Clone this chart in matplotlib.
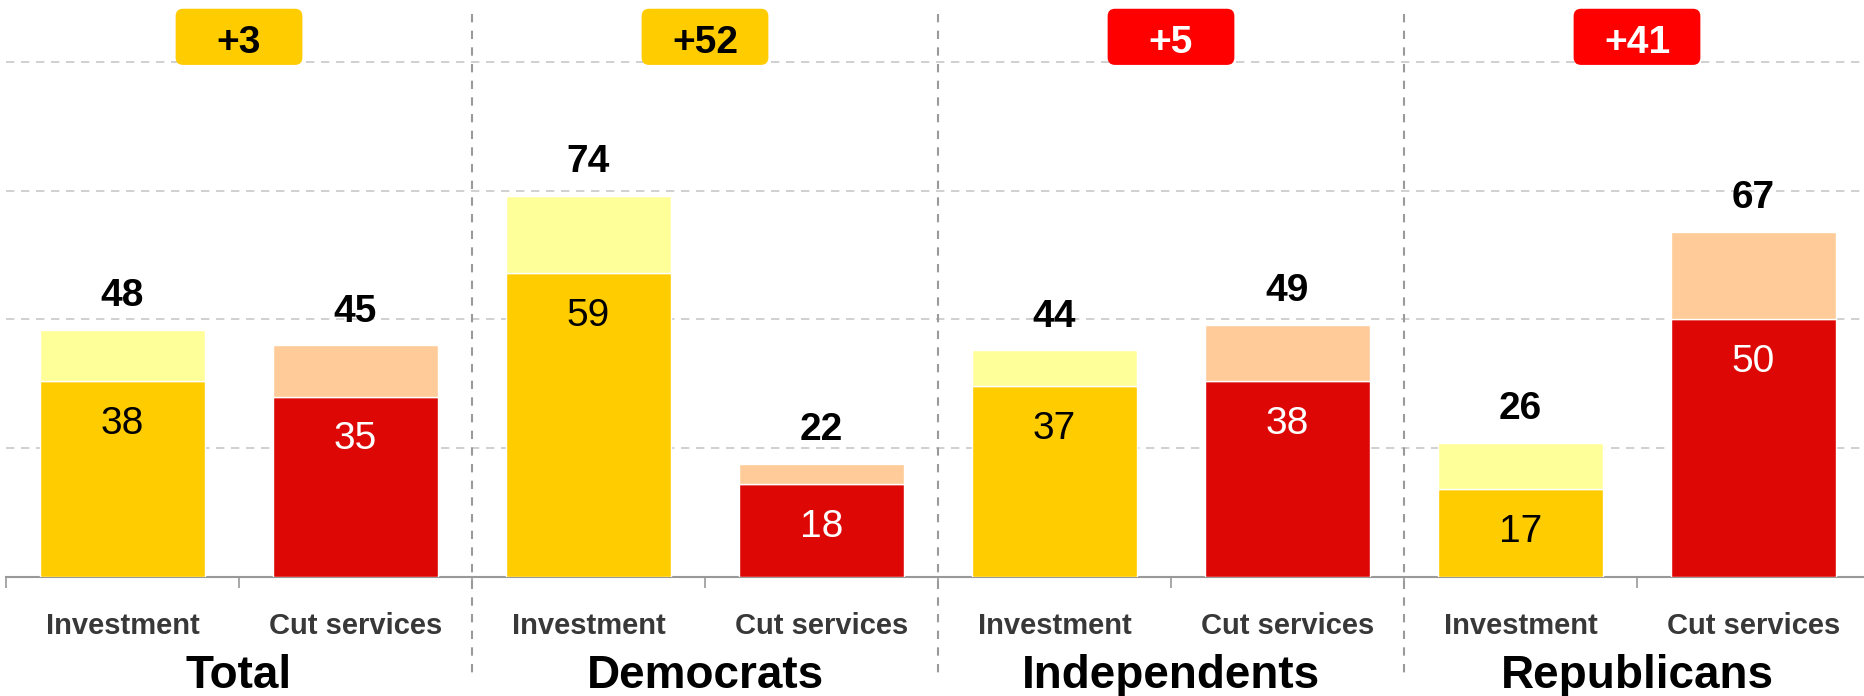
import matplotlib.pyplot as plt
from matplotlib.patches import FancyBboxPatch

plt.rcParams['font.family'] = ['Liberation Sans', 'DejaVu Sans']

groups = ['Total', 'Democrats', 'Independents', 'Republicans']
options = ['Investment', 'Cut services']
invest_total = [48, 74, 44, 26]
invest_strong = [38, 59, 37, 17]
cut_total = [45, 22, 49, 67]
cut_strong = [35, 18, 38, 50]
badges = ['+3', '+52', '+5', '+41']
badge_colors = ['#FFCC00', '#FFCC00', '#FF0000', '#FF0000']
badge_text_colors = ['black', 'black', 'white', 'white']

gold, pale_yellow = '#FFCC00', '#FFFF99'
red, peach = '#DD0806', '#FFCC99'

fig = plt.figure(figsize=(18.64, 6.96), dpi=100)
ax = fig.add_axes([6 / 1864, 0.171, 4 * 466 / 1864, 0.829])
ax.set_xlim(0, 4)
ax.set_ylim(0, 112)

width = 0.355
for i in range(len(groups)):
    bars = [
        (i + 0.25, invest_total[i], invest_strong[i], gold, pale_yellow, 'black'),
        (i + 0.75, cut_total[i], cut_strong[i], red, peach, 'white'),
    ]
    for x, tot, strong, c1, c2, tc in bars:
        ax.bar(x, strong, width, color=c1, edgecolor='white', linewidth=1, zorder=3)
        ax.bar(x, tot - strong, width, bottom=strong, color=c2, edgecolor='white',
               linewidth=1, zorder=3)
        ax.annotate(str(tot), (x, tot), xytext=(0, 17), textcoords='offset points',
                    ha='center', va='baseline', fontsize=28, fontweight='bold', zorder=5)
        ax.annotate(str(strong), (x, strong), xytext=(0, -38), textcoords='offset points',
                    ha='center', va='baseline', fontsize=28, color=tc, zorder=5)

    # difference badge
    box = FancyBboxPatch((i + 0.5 - 0.136, 99.4), 0.272, 10.9,
                         boxstyle='round,pad=0,rounding_size=0.016',
                         mutation_aspect=90, facecolor=badge_colors[i],
                         edgecolor='none', zorder=4, clip_on=False)
    ax.add_patch(box)
    ax.text(i + 0.5, 101.7, badges[i], ha='center', va='baseline', fontsize=28,
            fontweight='bold', color=badge_text_colors[i], zorder=5)

    for j, opt in enumerate(options):
        ax.annotate(opt, (i + 0.25 + 0.5 * j, 0), xycoords=('data', 'axes fraction'),
                    xytext=(0, -40.7), textcoords='offset points', ha='center',
                    va='baseline', fontsize=21, fontweight='bold', color='#383838')
    ax.annotate(groups[i], (i + 0.5, 0), xycoords=('data', 'axes fraction'),
                xytext=(0, -80), textcoords='offset points', ha='center',
                va='baseline', fontsize=33, fontweight='bold', color='black')

# group separators, drawn top-down so the dash pattern starts at the top
for sep in [1, 2, 3]:
    ax.plot([sep, sep], [109.3, -20], color='#9a9a9a', linestyle=(0, (4, 4)),
            linewidth=1.5, clip_on=False, zorder=2)

ax.set_yticks([25, 50, 75, 100])
ax.yaxis.grid(True, color='#c8c8c8', linestyle=(0, (5, 4)), linewidth=1.2, zorder=0)
ax.tick_params(axis='y', left=False, labelleft=False)
ax.set_xticks([k * 0.5 for k in range(9)])
ax.tick_params(axis='x', direction='out', length=8, width=1.2, color='#999999',
               labelbottom=False)
for s in ['top', 'right', 'left']:
    ax.spines[s].set_visible(False)
ax.spines['bottom'].set_color('#999999')
ax.spines['bottom'].set_linewidth(1.5)
ax.set_axisbelow(True)

fig.savefig('out.png', dpi=100)
